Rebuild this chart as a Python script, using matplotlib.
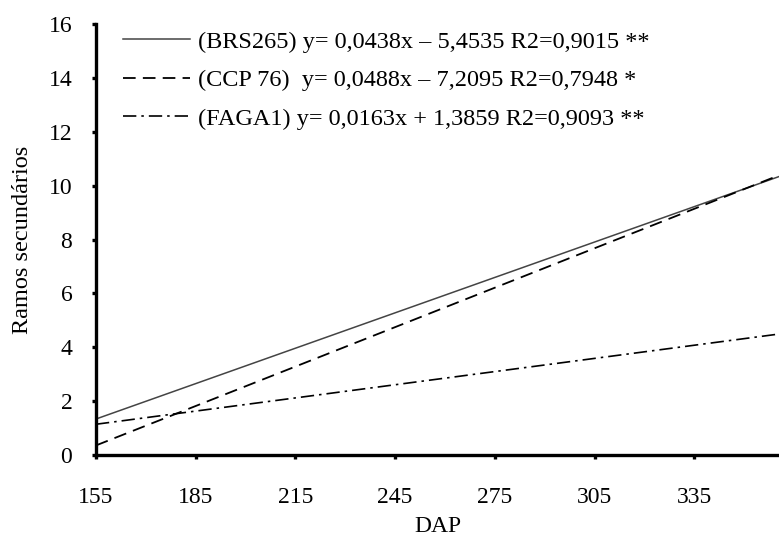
import matplotlib
matplotlib.use("Agg")
import matplotlib.pyplot as plt
import numpy as np

plt.rcParams['font.family'] = ['Liberation Serif', 'DejaVu Serif']

labels = ["(BRS265) y= 0,0438x – 5,4535 R2=0,9015 **",
          "(CCP 76)  y= 0,0488x – 7,2095 R2=0,7948 *",
          "(FAGA1) y= 0,0163x + 1,3859 R2=0,9093 **"]
slopes = [0.0438, 0.0488, 0.0163]
intercepts = [-5.4535, -7.2095, -1.3859]
x_range = np.array([155, 365])
xticks = [155, 185, 215, 245, 275, 305, 335]
yticks = [0, 2, 4, 6, 8, 10, 12, 14, 16]

styles = [dict(ls='-', color='#444444', lw=1.1),
          dict(ls=(0, (7, 4)), color='black', lw=1.3),
          dict(ls=(0, (8, 3, 1.5, 3)), color='black', lw=1.2)]

fig = plt.figure(figsize=(7.79, 5.41), dpi=100)
ax = fig.add_axes([0.1232, 0.159, 0.8768, 0.7966])
for lab, m, b, st in zip(labels, slopes, intercepts, styles):
    ax.plot(x_range, m * x_range + b, label=lab, **st)

ax.set_xlim(155, 360.5)
ax.set_ylim(0, 16)
ax.set_xticks(xticks)
ax.set_yticks(yticks)
for s in ['top', 'right']:
    ax.spines[s].set_visible(False)
for s in ['left', 'bottom']:
    ax.spines[s].set_linewidth(2.4)
    ax.spines[s].set_zorder(5)
ax.tick_params(direction='out', length=3, width=2.4, labelsize=17)
ax.tick_params(axis='y', pad=14)
ax.tick_params(axis='x', pad=20)
ax.set_xlabel('DAP', fontsize=17, labelpad=6)
ax.set_ylabel('Ramos secundários', fontsize=17.5, labelpad=11)
ax.legend(loc='upper left', bbox_to_anchor=(0.008, 1.035), frameon=False,
          fontsize=17.5, handlelength=2.75, handletextpad=0.33, labelspacing=0.68)
fig.savefig('out.png', dpi=100)
